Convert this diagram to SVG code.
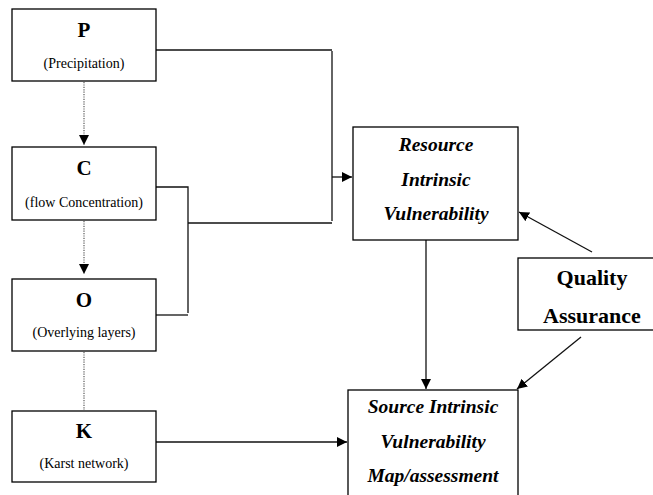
<svg xmlns="http://www.w3.org/2000/svg" width="653" height="495" viewBox="0 0 653 495">
<style>
.box{fill:#fff;stroke:#000;stroke-width:1.3}
.ln{fill:none;stroke:#111;stroke-width:1.3}
.dot{fill:none;stroke:#666;stroke-width:1.3;stroke-dasharray:1.2 1.2}
.big{font-family:"Liberation Serif","Times New Roman",serif;font-weight:bold;font-size:21px;text-anchor:middle}
.sub{font-family:"Liberation Serif","Times New Roman",serif;font-size:14px;text-anchor:middle}
.bi{font-family:"Liberation Serif","Times New Roman",serif;font-weight:bold;font-style:italic;font-size:19.5px;text-anchor:middle}
.qa{font-family:"Liberation Serif","Times New Roman",serif;font-weight:bold;font-size:22px;text-anchor:middle}
</style>
<defs>
<marker id="ah" viewBox="0 0 10 10" refX="10" refY="5" markerWidth="10" markerHeight="10" markerUnits="userSpaceOnUse" orient="auto">
<path d="M0,0 L10,5 L0,10 Z" fill="#000"/>
</marker>
</defs>
<rect width="653" height="495" fill="#fff"/>
<g id="connectors">
<line class="dot" x1="84" y1="82" x2="84" y2="145" marker-end="url(#ah)"/>
<line class="dot" x1="84" y1="221" x2="84" y2="274" marker-end="url(#ah)"/>
<line class="dot" x1="84" y1="352" x2="84" y2="410"/>
<polyline class="ln" points="156,50 332,50"/>
<line class="ln" x1="332" y1="51" x2="332" y2="221"/>
<line class="ln" x1="332" y1="177" x2="352" y2="177" marker-end="url(#ah)"/>
<polyline class="ln" points="156,187 188,187 188,313"/>
<line class="ln" x1="156" y1="315" x2="188" y2="315"/>
<line class="ln" x1="188" y1="223" x2="332" y2="223"/>
<line class="ln" x1="156" y1="442" x2="347" y2="442" marker-end="url(#ah)"/>
<line class="ln" x1="426" y1="240" x2="426" y2="389" marker-end="url(#ah)"/>
<line class="ln" x1="592" y1="252" x2="519" y2="212" marker-end="url(#ah)"/>
<line class="ln" x1="581" y1="337" x2="517" y2="389" marker-end="url(#ah)"/>
</g>
<g id="node-P">
<rect class="box" x="12" y="9" width="144" height="72"/>
<text class="big" x="84" y="37">P</text>
<text class="sub" x="84" y="68">(Precipitation)</text>
</g>
<g id="node-C">
<rect class="box" x="12" y="147" width="144" height="73"/>
<text class="big" x="84" y="175">C</text>
<text class="sub" x="84" y="207">(flow Concentration)</text>
</g>
<g id="node-O">
<rect class="box" x="12" y="279" width="144" height="72"/>
<text class="big" x="84" y="307">O</text>
<text class="sub" x="84" y="337">(Overlying layers)</text>
</g>
<g id="node-K">
<rect class="box" x="12" y="411" width="144" height="71"/>
<text class="big" x="84" y="438">K</text>
<text class="sub" x="84" y="468">(Karst network)</text>
</g>
<g id="node-resource">
<rect class="box" x="353" y="127" width="165" height="113"/>
<text class="bi" x="436" y="151">Resource</text>
<text class="bi" x="436" y="186">Intrinsic</text>
<text class="bi" x="436" y="220">Vulnerability</text>
</g>
<g id="node-source">
<rect class="box" x="348" y="390" width="170" height="110"/>
<text class="bi" x="433" y="413">Source Intrinsic</text>
<text class="bi" x="433" y="448">Vulnerability</text>
<text class="bi" x="433" y="482">Map/assessment</text>
</g>
<g id="node-quality">
<rect class="box" x="518" y="258" width="140" height="72"/>
<text class="qa" x="592" y="285">Quality</text>
<text class="qa" x="592" y="323">Assurance</text>
</g>
</svg>
